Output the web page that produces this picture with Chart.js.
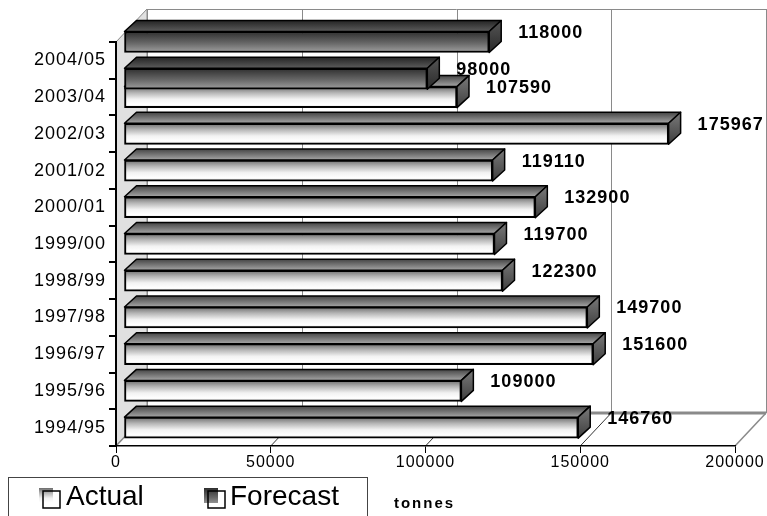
<!DOCTYPE html>
<html>
<head>
<meta charset="utf-8">
<script src="https://cdn.jsdelivr.net/npm/chart.js@4.4.1/dist/chart.umd.min.js"></script>
<style>
  html, body { margin: 0; padding: 0; background: #fff; }
  canvas { display: block; }
</style>
</head>
<body>
<canvas id="chart" width="767" height="516"></canvas>
<script>
// Seasons, bottom to top
const categories = ['1994/95', '1995/96', '1996/97', '1997/98', '1998/99', '1999/00',
                    '2000/01', '2001/02', '2002/03', '2003/04', '2004/05'];
// Actual tonnes per season (no actual yet for 2004/05)
const actualValues = [146760, 109000, 151600, 149700, 122300, 119700, 132900, 119110, 175967, 107590, null];
// Forecast tonnes
const forecastSeasons = ['2003/04', '2004/05'];
const forecastValues = [98000, 118000];
// Value axis ticks
const xTickValues = [0, 50000, 100000, 150000, 200000];
const seriesNames = ['Actual', 'Forecast'];
const valueAxisTitle = 'tonnes';

// 3-D box look
const WALL = { dx: 31, dy: -33 };      // offset from the front plane to the back wall
const BAR_DEPTH = { dx: 12, dy: -11 }; // thickness of each bar along the depth axis
const BAR_SHIFT = 8;                   // bars sit slightly behind the front plane
const BAR_THICK = 21;
const FONT = "'Liberation Sans', Arial, sans-serif";

const faceStyles = {
  Actual: {
    front: [[0, '#6c6c6c'], [0.3, '#b6b6b6'], [0.6, '#f2f2f2'], [0.85, '#ffffff'], [1, '#e2e2e2']],
    top: ['#454545', '#a6a6a6'],
    side: ['#7a7a7a', '#3e3e3e']
  },
  Forecast: {
    front: [[0, '#2e2e2e'], [0.55, '#676767'], [1, '#a0a0a0']],
    top: ['#242424', '#5c5c5c'],
    side: ['#555555', '#2a2a2a']
  }
};

function frontFill(context) {
  const chart = context.chart;
  const ds = context.dataset;
  const style = faceStyles[ds.label];
  if (context.type !== 'data' || !chart.chartArea || !context.parsed) return style.front[1][1];
  const scale = chart.scales[ds.yAxisID];
  const yc = scale.getPixelForValue(context.parsed.y);
  const g = chart.ctx.createLinearGradient(0, yc - BAR_THICK / 2, 0, yc + BAR_THICK / 2);
  style.front.forEach(([o, c]) => g.addColorStop(o, c));
  return g;
}

function valueOf(dataset, i) {
  const raw = dataset.data[i];
  if (raw === null || raw === undefined) return null;
  return typeof raw === 'object' ? raw.x : raw;
}

// Back wall, left wall and floor of the 3-D box
const boxPlugin = {
  id: 'box3d',
  beforeDraw(chart) {
    const { ctx, chartArea: a, scales } = chart;
    const xs = scales.x;
    ctx.save();
    ctx.fillStyle = '#ffffff';
    ctx.fillRect(0, 0, chart.width, chart.height);

    const L = a.left, R = a.right, T = a.top, B = a.bottom;
    const bL = L + WALL.dx, bR = R + WALL.dx, bT = T + WALL.dy, bB = B + WALL.dy;

    // left side wall
    ctx.beginPath();
    ctx.moveTo(L, T); ctx.lineTo(bL, bT); ctx.lineTo(bL, bB); ctx.lineTo(L, B); ctx.closePath();
    ctx.fillStyle = '#e0e0e0';
    ctx.fill();
    ctx.strokeStyle = '#8a8a8a';
    ctx.lineWidth = 1;
    ctx.stroke();

    // back wall gridlines
    ctx.strokeStyle = '#8a8a8a';
    ctx.lineWidth = 1;
    xTickValues.forEach(v => {
      const px = Math.round(xs.getPixelForValue(v) + WALL.dx) + 0.5;
      ctx.beginPath(); ctx.moveTo(px, bT); ctx.lineTo(px, bB); ctx.stroke();
    });
    ctx.beginPath(); ctx.moveTo(bL, bT + 0.5); ctx.lineTo(bR, bT + 0.5); ctx.stroke();

    // floor: back edge, right edge, gridlines
    ctx.strokeStyle = '#8a8a8a';
    ctx.lineWidth = 3;
    ctx.beginPath(); ctx.moveTo(bL, bB); ctx.lineTo(bR, bB); ctx.stroke();
    ctx.lineWidth = 1.5;
    ctx.beginPath(); ctx.moveTo(bR, bB); ctx.lineTo(R, B); ctx.stroke();
    ctx.beginPath(); ctx.moveTo(bL, bB); ctx.lineTo(L, B); ctx.stroke();
    ctx.strokeStyle = '#333333';
    ctx.lineWidth = 1;
    xTickValues.slice(1, -1).forEach(v => {
      const px = xs.getPixelForValue(v);
      ctx.beginPath(); ctx.moveTo(px, B); ctx.lineTo(px + WALL.dx, bB); ctx.stroke();
    });
    ctx.restore();
    ctx.letterSpacing = '1px';
  }
};

// Top and end faces of every bar, drawn under the bar's front face
const barFacesPlugin = {
  id: 'barFaces',
  beforeDatasetDraw(chart, args) {
    const ctx = chart.ctx;
    const meta = args.meta;
    const ds = chart.data.datasets[args.index];
    const style = faceStyles[ds.label];
    ctx.save();
    ctx.translate(BAR_SHIFT, 0);
    meta.data.forEach((bar, i) => {
      if (valueOf(ds, i) === null) return;
      const { x, y, base, height } = bar.getProps(['x', 'y', 'base', 'height'], true);
      const x0 = base, x1 = x, yT = y - height / 2, yB = y + height / 2;
      const dx = BAR_DEPTH.dx, dy = BAR_DEPTH.dy;

      ctx.lineWidth = 1.5;
      ctx.strokeStyle = '#000';
      ctx.lineJoin = 'round';

      // top face
      let g = ctx.createLinearGradient(0, yT + dy, 0, yT);
      g.addColorStop(0, style.top[0]); g.addColorStop(1, style.top[1]);
      ctx.beginPath();
      ctx.moveTo(x0, yT); ctx.lineTo(x0 + dx, yT + dy); ctx.lineTo(x1 + dx, yT + dy); ctx.lineTo(x1, yT);
      ctx.closePath();
      ctx.fillStyle = g; ctx.fill(); ctx.stroke();

      // end face
      g = ctx.createLinearGradient(0, yT + dy, 0, yB);
      g.addColorStop(0, style.side[0]); g.addColorStop(1, style.side[1]);
      ctx.beginPath();
      ctx.moveTo(x1, yT); ctx.lineTo(x1 + dx, yT + dy); ctx.lineTo(x1 + dx, yB + dy); ctx.lineTo(x1, yB);
      ctx.closePath();
      ctx.fillStyle = g; ctx.fill(); ctx.stroke();
    });
  },
  afterDatasetDraw(chart) {
    chart.ctx.restore();
  },
  afterDatasetsDraw(chart) {
    const ctx = chart.ctx;
    ctx.save();
    ctx.font = 'bold 18px ' + FONT;
    ctx.letterSpacing = '1px';
    ctx.fillStyle = '#000';
    ctx.textAlign = 'left';
    ctx.textBaseline = 'middle';
    chart.data.datasets.forEach((ds, di) => {
      const meta = chart.getDatasetMeta(di);
      meta.data.forEach((bar, i) => {
        const v = valueOf(ds, i);
        if (v === null) return;
        const { x, y } = bar.getProps(['x', 'y'], true);
        ctx.fillText(String(v), x + BAR_SHIFT + 29, y - 9);
      });
    });
    ctx.restore();
  }
};

// Boxed legend with small 3-D swatches, and the value axis title
const legendPlugin = {
  id: 'boxLegend',
  afterDraw(chart) {
    const ctx = chart.ctx;
    ctx.save();
    ctx.letterSpacing = '0px';
    ctx.strokeStyle = '#444';
    ctx.lineWidth = 1;
    ctx.strokeRect(8.5, 477.5, 359, 60);

    const slots = [{ sx: 39, tx: 66 }, { sx: 204, tx: 230 }];
    seriesNames.forEach((name, k) => {
      const s = slots[k];
      const style = faceStyles[name];
      ctx.fillStyle = '#fff';
      ctx.fillRect(s.sx + 4, 491, 17, 17);
      const g = ctx.createLinearGradient(0, 488, 0, 505);
      style.front.forEach(([o, c]) => g.addColorStop(o, c));
      ctx.fillStyle = g;
      ctx.fillRect(s.sx, 488, 14, 15);
      ctx.strokeStyle = '#000';
      ctx.lineWidth = 1.5;
      ctx.strokeRect(s.sx + 4, 491, 17, 17);
      ctx.fillStyle = '#000';
      ctx.font = '28px ' + FONT;
      ctx.textAlign = 'left';
      ctx.textBaseline = 'alphabetic';
      ctx.fillText(name, s.tx, 505);
    });

    const a = chart.chartArea;
    ctx.font = 'bold 15px ' + FONT;
    ctx.letterSpacing = '2px';
    ctx.textAlign = 'center';
    ctx.textBaseline = 'middle';
    ctx.fillText(valueAxisTitle, (a.left + a.right) / 2 - 1, 504);
    ctx.restore();
  }
};

const forecastPoints = forecastSeasons.map((s, i) => ({ x: forecastValues[i], y: s }));

const barStyle = {
  grouped: false,
  barThickness: BAR_THICK,
  backgroundColor: frontFill,
  borderColor: '#000000',
  borderWidth: 2,
  borderSkipped: false,
  clip: false
};

new Chart(document.getElementById('chart'), {
  type: 'bar',
  data: {
    labels: categories,
    datasets: [
      Object.assign({ label: seriesNames[0], data: actualValues, yAxisID: 'y', order: 1 }, barStyle),
      Object.assign({ label: seriesNames[1], data: forecastPoints, yAxisID: 'y2', order: 0 }, barStyle)
    ]
  },
  options: {
    indexAxis: 'y',
    responsive: false,
    animation: false,
    devicePixelRatio: 1,
    layout: { padding: { top: 42, right: 32, left: 0, bottom: 0 } },
    plugins: {
      colors: { enabled: false },
      legend: { display: false },
      title: { display: false },
      tooltip: { enabled: false }
    },
    font: { family: FONT },
    scales: {
      x: {
        type: 'linear',
        position: 'bottom',
        min: xTickValues[0],
        max: xTickValues[xTickValues.length - 1],
        afterBuildTicks: s => { s.ticks = xTickValues.map(v => ({ value: v })); },
        afterFit: s => { s.height = 70; },
        ticks: {
          font: { family: FONT, size: 16 },
          color: '#000',
          padding: 0,
          maxRotation: 0,
          autoSkip: false,
          callback: v => String(v)
        },
        grid: { drawOnChartArea: false, tickLength: 7, color: '#000', lineWidth: 1 },
        border: { display: true, color: '#000', width: 1.5 }
      },
      y: {
        type: 'category',
        position: 'left',
        labels: categories,
        reverse: true,
        offset: true,
        afterFit: s => { s.width = 116; },
        ticks: { font: { family: FONT, size: 18 }, color: '#000', padding: 3, autoSkip: false },
        grid: { drawOnChartArea: false, offset: true, tickLength: 7, color: '#000', lineWidth: 2 },
        border: { display: true, color: '#000', width: 2 }
      },
      y2: {
        type: 'category',
        position: 'left',
        labels: [''].concat(categories),
        reverse: true,
        offset: false,
        display: false
      }
    }
  },
  plugins: [boxPlugin, barFacesPlugin, legendPlugin]
});
</script>
</body>
</html>
